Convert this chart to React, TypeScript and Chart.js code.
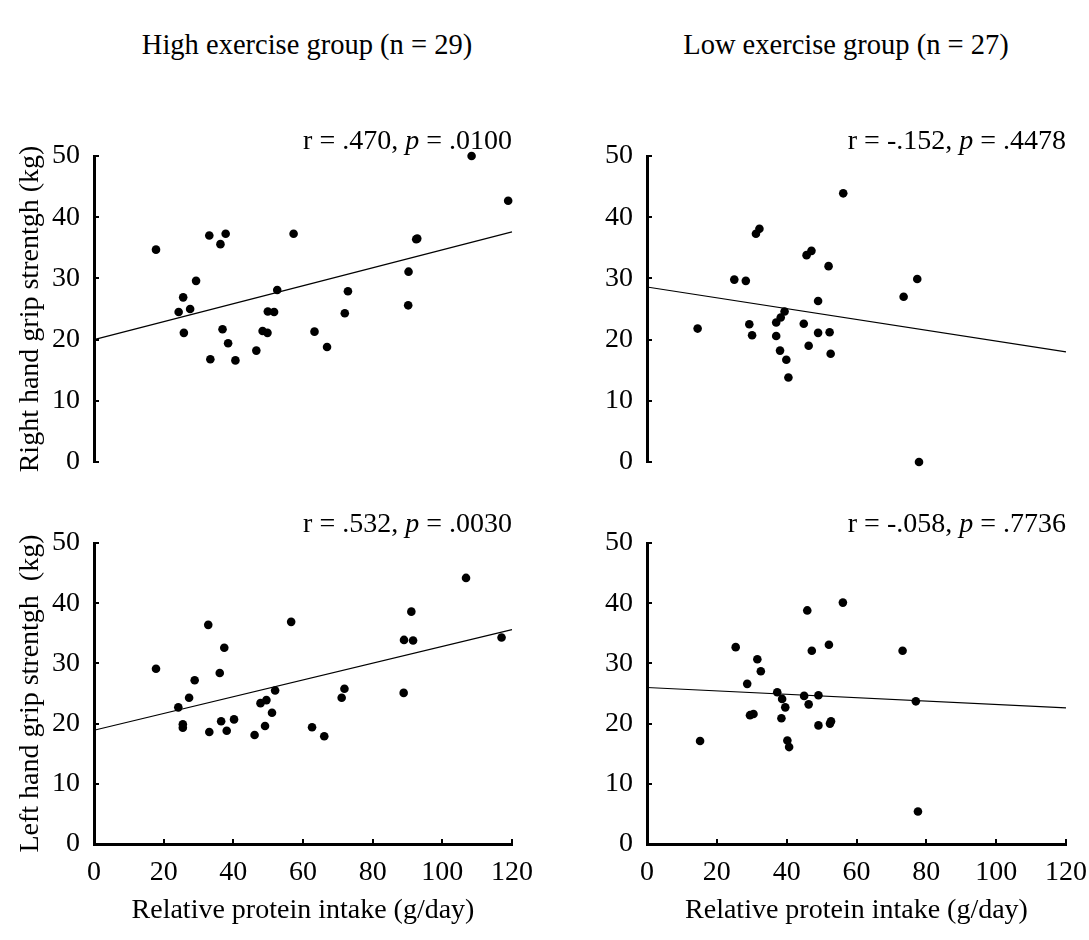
import React, { useEffect, useRef } from 'react';
import { Chart, registerables } from 'chart.js';

Chart.register(...registerables);

const FONT = "'Liberation Serif', 'Times New Roman', Times, serif";

// ---- Data ----
// High exercise group, right hand grip strength
const highRightX = [17.8, 24.3, 25.6, 25.8, 27.6, 29.3, 33.1, 33.4, 36.3, 36.9, 37.8, 38.5, 40.6, 46.6, 48.4, 49.8, 49.9, 51.7, 52.6, 57.3, 63.3, 66.9, 72.0, 72.9, 90.2, 90.3, 92.5, 92.8, 108.4, 118.9];
const highRightY = [34.7, 24.5, 26.9, 21.1, 25.0, 29.6, 37.0, 16.8, 35.6, 21.7, 37.3, 19.4, 16.6, 18.2, 21.4, 21.1, 24.6, 24.5, 28.1, 37.3, 21.3, 18.8, 24.3, 27.9, 25.6, 31.1, 36.4, 36.5, 50.0, 42.7];
// Low exercise group, right hand grip strength
const lowRightX = [14.5, 25.0, 28.3, 29.3, 30.1, 31.2, 32.2, 37.0, 37.0, 38.1, 38.3, 39.4, 39.9, 40.5, 44.9, 45.7, 47.1, 46.3, 49.0, 49.0, 52.0, 52.3, 52.6, 56.2, 73.5, 77.4, 77.9];
const lowRightY = [21.8, 29.8, 29.6, 22.5, 20.7, 37.3, 38.1, 22.8, 20.6, 18.2, 23.6, 24.6, 16.7, 13.8, 22.6, 33.8, 34.5, 19.0, 26.3, 21.1, 32.0, 21.2, 17.7, 43.9, 27.0, 29.9, 0.0];
// High exercise group, left hand grip strength
const highLeftX = [17.8, 24.2, 25.5, 25.5, 27.3, 28.9, 32.8, 33.1, 36.1, 36.5, 37.4, 38.1, 40.2, 46.1, 47.8, 49.1, 49.5, 51.1, 52.0, 56.6, 62.6, 66.1, 71.1, 71.9, 88.9, 89.0, 91.1, 91.6, 106.8, 117.0];
const highLeftY = [29.1, 22.7, 19.9, 19.3, 24.3, 27.2, 36.4, 18.6, 28.4, 20.4, 32.6, 18.8, 20.7, 18.1, 23.4, 19.6, 23.9, 21.8, 25.5, 36.9, 19.4, 17.9, 24.3, 25.8, 25.1, 33.9, 38.6, 33.8, 44.2, 34.3];
// Low exercise group, left hand grip strength
const lowLeftX = [15.2, 25.4, 28.7, 29.5, 30.5, 31.6, 32.6, 37.3, 38.5, 38.7, 39.6, 40.2, 40.7, 45.0, 45.9, 46.3, 47.2, 49.1, 49.1, 52.1, 52.4, 52.7, 56.1, 73.2, 77.0, 77.6];
const lowLeftY = [17.1, 32.7, 26.6, 21.4, 21.6, 30.7, 28.7, 25.2, 20.9, 24.1, 22.7, 17.2, 16.1, 24.6, 38.8, 23.2, 32.1, 24.7, 19.7, 33.1, 20.0, 20.4, 40.1, 32.1, 23.7, 5.4];

// Fitted lines: x ends and y at those ends
const trendX = [0, 120];
const highRightTrend = [20.0, 37.6];
const lowRightTrend = [28.6, 18.0];
const highLeftTrend = [18.9, 35.6];
const lowLeftTrend = [26.0, 22.6];

const groupTitles = ['High exercise group (n = 29)', 'Low exercise group (n = 27)'];
const yTitles = ['Right hand grip strentgh (kg)', 'Left hand grip strentgh  (kg)'];
const xTitle = 'Relative protein intake (g/day)';
const rValues = ['.470', '-.152', '.532', '-.058'];
const pValues = ['.0100', '.4478', '.0030', '.7736'];

const X_MIN = 0, X_MAX = 120, X_STEP = 20;
const Y_MIN = 0, Y_MAX = 50, Y_STEP = 10;
const FS = 28;

const inwardTicks = {
  id: 'inwardTicks',
  afterDraw(chart: any) {
    const { ctx, chartArea, scales } = chart;
    ctx.save();
    ctx.strokeStyle = '#000';
    ctx.lineWidth = 2;
    const ys = scales.y;
    ys.ticks.forEach((t: any) => {
      const py = Math.round(ys.getPixelForValue(t.value));
      ctx.beginPath();
      ctx.moveTo(chartArea.left, py);
      ctx.lineTo(chartArea.left + 5, py);
      ctx.stroke();
    });
    const xs = scales.x;
    if (xs.options.display) {
      xs.ticks.forEach((t: any) => {
        const px = Math.round(xs.getPixelForValue(t.value));
        ctx.beginPath();
        ctx.moveTo(px, chartArea.bottom);
        ctx.lineTo(px, chartArea.bottom - 5);
        ctx.stroke();
      });
    }
    ctx.restore();
  },
};

type PanelProps = {
  left: number; top: number; width: number; height: number;
  padding: { top: number; right: number; bottom: number; left: number };
  yWidth: number; xHeight: number; showX: boolean; yTitle: string | null;
  xs: number[]; ys: number[]; trend: number[];
};

function Panel(p: PanelProps) {
  const ref = useRef<HTMLCanvasElement | null>(null);
  useEffect(() => {
    if (!ref.current) return;
    const pts = p.xs.map((x, i) => ({ x, y: p.ys[i] }));
    const line = trendX.map((x, i) => ({ x, y: p.trend[i] }));
    const chart = new Chart(ref.current, {
      type: 'scatter',
      data: {
        datasets: [
          {
            type: 'scatter',
            data: pts,
            backgroundColor: '#000',
            borderColor: '#000',
            pointRadius: 4.3,
            pointHoverRadius: 4.3,
            borderWidth: 0,
            clip: false,
          } as any,
          {
            type: 'line',
            data: line,
            borderColor: '#000',
            borderWidth: 1.2,
            pointRadius: 0,
            fill: false,
            clip: false,
          } as any,
        ],
      },
      options: {
        responsive: false,
        animation: false,
        events: [],
        layout: { padding: p.padding },
        plugins: { legend: { display: false }, tooltip: { enabled: false } },
        scales: {
          x: {
            type: 'linear',
            display: p.showX,
            min: X_MIN,
            max: X_MAX,
            afterFit: (s: any) => { s.height = p.xHeight; },
            grid: { display: true, drawOnChartArea: false, drawTicks: true, tickLength: 12, color: 'rgba(0,0,0,0)' },
            border: { display: true, width: 3, color: '#000' },
            ticks: { stepSize: X_STEP, color: '#000', padding: 0, font: { family: FONT, size: FS }, maxRotation: 0 },
            title: {
              display: true,
              text: xTitle,
              color: '#000',
              font: { family: FONT, size: FS },
              padding: { top: 0, bottom: 13 },
            },
          },
          y: {
            type: 'linear',
            min: Y_MIN,
            max: Y_MAX,
            afterFit: (s: any) => { s.width = p.yWidth; },
            grid: { display: true, drawOnChartArea: false, drawTicks: true, tickLength: 14, color: 'rgba(0,0,0,0)' },
            border: { display: true, width: 3, color: '#000' },
            ticks: { stepSize: Y_STEP, color: '#000', padding: 0, font: { family: FONT, size: FS } },
            title: {
              display: !!p.yTitle,
              text: p.yTitle || '',
              color: '#000',
              font: { family: FONT, size: FS },
              padding: { top: 14, bottom: 0 },
            },
          },
        },
      } as any,
      plugins: [inwardTicks],
    });
    return () => chart.destroy();
  }, []);
  return (
    <canvas
      ref={ref}
      width={p.width}
      height={p.height}
      style={{ position: 'absolute', left: p.left, top: p.top, width: p.width, height: p.height }}
    />
  );
}

function Annot({ right, cy, r, pv }: { right: number; cy: number; r: string; pv: string }) {
  return (
    <div
      style={{
        position: 'absolute', left: right - 400, width: 400, top: cy - 16,
        lineHeight: '32px', fontSize: FS, textAlign: 'right', whiteSpace: 'pre', color: '#000',
      }}
    >
      r = {r}, <i>p</i> = {pv}
    </div>
  );
}

export default function App() {
  useEffect(() => {
    document.body.style.margin = '0';
  }, []);
  const titleStyle = (cx: number): React.CSSProperties => ({
    position: 'absolute', left: cx - 250, width: 500, top: 45 - 17, lineHeight: '34px', fontSize: 28.5, textAlign: 'center', color: '#000',
  });
  return (
    <div style={{ position: 'absolute', left: 0, top: 0, width: 1089, height: 940, background: '#fff', fontFamily: FONT, overflow: 'hidden' }}>
      <div style={titleStyle(307)}>{groupTitles[0]}</div>
      <div style={titleStyle(846)}>{groupTitles[1]}</div>

      <Panel left={0} top={100} width={545} height={380} padding={{ top: 56, right: 33, bottom: 18, left: 0 }}
        yWidth={94} xHeight={0} showX={false} yTitle={yTitles[0]} xs={highRightX} ys={highRightY} trend={highRightTrend} />
      <Panel left={545} top={100} width={544} height={380} padding={{ top: 56, right: 23, bottom: 18, left: 0 }}
        yWidth={102} xHeight={0} showX={false} yTitle={null} xs={lowRightX} ys={lowRightY} trend={lowRightTrend} />
      <Panel left={0} top={480} width={545} height={460} padding={{ top: 63, right: 33, bottom: 0, left: 0 }}
        yWidth={94} xHeight={96} showX={true} yTitle={yTitles[1]} xs={highLeftX} ys={highLeftY} trend={highLeftTrend} />
      <Panel left={545} top={480} width={544} height={460} padding={{ top: 63, right: 23, bottom: 0, left: 0 }}
        yWidth={102} xHeight={96} showX={true} yTitle={null} xs={lowLeftX} ys={lowLeftY} trend={lowLeftTrend} />

      <Annot right={512} cy={140} r={rValues[0]} pv={pValues[0]} />
      <Annot right={1066} cy={140} r={rValues[1]} pv={pValues[1]} />
      <Annot right={512} cy={523} r={rValues[2]} pv={pValues[2]} />
      <Annot right={1066} cy={523} r={rValues[3]} pv={pValues[3]} />
    </div>
  );
}
